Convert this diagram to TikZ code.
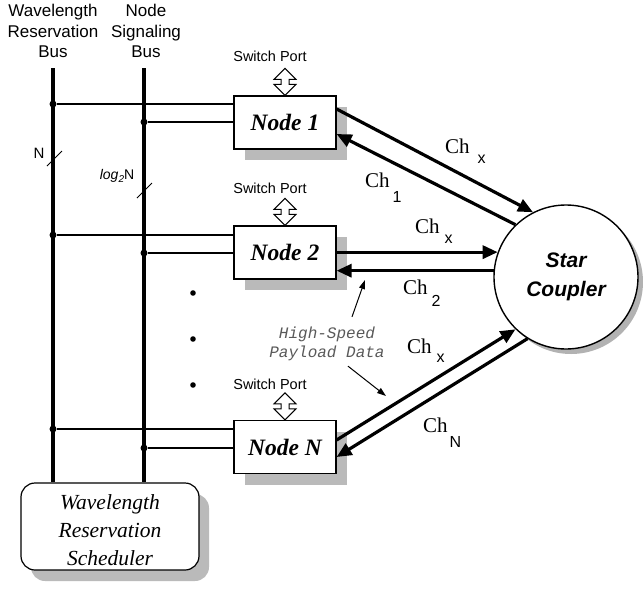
\documentclass[tikz,border=0pt]{standalone}
\usepackage{fontspec}
\setmainfont{Liberation Serif}
\setsansfont{Liberation Sans}
\setmonofont{Liberation Mono}
\usetikzlibrary{arrows.meta,shadows,calc}
\newcommand\chl[3]{{\fontsize{21}{21}\selectfont Ch}\hspace{#1pt}\raisebox{-#2pt}{\sffamily\fontsize{16}{16}\selectfont #3}}
\begin{document}
\begin{tikzpicture}[x=1pt,y=-1pt,
  bus/.style={line width=3.6pt},
  tap/.style={line width=1.3pt},
  junct/.style={circle,fill=black,inner sep=0pt,minimum size=7pt},
  hdr/.style={align=center,inner sep=0pt,font=\sffamily\fontsize{17}{20.5}\selectfont},
  swl/.style={anchor=base,inner sep=0pt,font=\sffamily\fontsize{14.5}{16}\selectfont},
  nodebox/.style={draw,line width=1.2pt,fill=white,minimum width=102pt,minimum height=53pt,inner sep=0pt,
    font=\fontsize{23.5}{26}\selectfont\bfseries\itshape,
    drop shadow={shadow xshift=11pt,shadow yshift=-11pt,fill=black!27,opacity=1,draw=none}},
  chan/.style={line width=3.2pt,-{Triangle[length=15pt,width=13pt]}},
  chlab/.style={anchor=base west,inner sep=0pt},
  ptr/.style={line width=1pt,-{Triangle[length=9pt,width=6pt]}},
  slash/.style={line width=0.9pt},
  swport/.pic={\draw[line width=1pt,fill=white] (0,0) -- (-11,-11) -- (-4,-11) -- (-4,-16) -- (-11,-16) -- (0,-27) -- (11,-16) -- (4,-16) -- (4,-11) -- (11,-11) -- cycle;}
]
\useasboundingbox (0,0) rectangle (643,595);

% headers
\node[hdr] (h1) at (53,31.3) {Wavelength\\Reservation\\Bus};
\node[hdr] (h2) at (146,31.3) {Node\\Signaling\\Bus};
\coordinate (b1) at (53,68);
\coordinate (b2) at (144,68);

% scheduler
\node[draw,line width=1.2pt,fill=white,rounded corners=14pt,minimum width=178pt,minimum height=87pt,inner sep=0pt,align=center,
  font=\fontsize{21.5}{28}\selectfont\itshape,
  drop shadow={shadow xshift=10pt,shadow yshift=-11pt,fill=black!27,opacity=1,draw=none}]
  (sched) at (110,526.5) {\rule{0pt}{22.6pt}Wavelength\\Reservation\\Scheduler};

% buses
\draw[bus] (b1) -- (b1 |- sched.north);
\draw[bus] (b2) -- (b2 |- sched.north);

% nodes
\node[nodebox] (n1) at (285,122.5) {Node 1};
\node[nodebox] (n2) at (285,252.5) {Node 2};
\node[nodebox] (nN) at (285,447) {Node N};

% taps
\node[junct] (j11) at (53,104) {};
\node[junct] (j12) at (144,122) {};
\node[junct] (j21) at (53,235) {};
\node[junct] (j22) at (144,253) {};
\node[junct] (jN1) at (53,429) {};
\node[junct] (jN2) at (144,448) {};
\draw[tap] (j11) -- (j11 -| n1.west);
\draw[tap] (j12) -- (j12 -| n1.west);
\draw[tap] (j21) -- (j21 -| n2.west);
\draw[tap] (j22) -- (j22 -| n2.west);
\draw[tap] (jN1) -- (jN1 -| nN.west);
\draw[tap] (jN2) -- (jN2 -| nN.west);

% bus width marks
\draw[slash] (47,166) -- (62,151);
\node[inner sep=0pt,font=\sffamily\fontsize{15}{15}\selectfont] (lN) at (39,153) {N};
\draw[slash] (137,198) -- (152,183);
\node[inner sep=0pt,font=\sffamily\fontsize{14}{14}\selectfont] (llog) at (117,176) {\textit{log}\raisebox{-3pt}{\fontsize{10}{10}\selectfont\textit{2}}N};

% switch ports
\node[swl] (s1) at (270,61) {Switch Port};
\node[swl] (s2) at (270,193) {Switch Port};
\node[swl] (sN) at (270,389) {Switch Port};
\pic at (n1.north) {swport};
\pic at (n2.north) {swport};
\pic at (nN.north) {swport};

% ellipsis
\fill (193,293) circle (2.8);
\fill (193,339) circle (2.8);
\fill (193,385) circle (2.8);

% star coupler
\node[draw,circle,line width=1.4pt,fill=white,minimum size=144pt,inner sep=0pt,align=center,
  font=\sffamily\bfseries\itshape\fontsize{21}{29}\selectfont,
  drop shadow={shadow xshift=5pt,shadow yshift=-5pt,fill=black!30,opacity=1,draw=none}]
  (sc) at (566,277) {Star\\Coupler};

% channels
\draw[chan] ($(n1.east)+(0,-13.5)$) -- (sc.117);
\draw[chan] (sc.134) -- ($(n1.east)+(0,11.5)$);
\draw[chan] (n2.east |- sc.160) -- (sc.160);
\draw[chan] (sc.175) -- (n2.east |- sc.175);
\draw[chan] ($(nN.east)+(0,-7)$) -- (sc.226);
\draw[chan] (sc.238) -- ($(nN.east)+(0,10)$);

% channel labels
\node[chlab] (c1x) at (445,153) {\chl{8}{10}{x}};
\node[chlab] (c11) at (365,187) {\chl{3}{15}{1}};
\node[chlab] (c2x) at (415,233) {\chl{5}{10}{x}};
\node[chlab] (c22) at (403,294) {\chl{4}{12}{2}};
\node[chlab] (cNx) at (407,353) {\chl{5}{9}{x}};
\node[chlab] (cNN) at (423,432) {\chl{2}{15}{N}};

% payload label
\node[align=center,inner sep=0pt,text=black!65,font=\ttfamily\itshape\fontsize{16}{19}\selectfont] (hsd) at (327,344) {High-Speed\\Payload Data};
\coordinate (p1) at (365,280);
\coordinate (p2) at (386,396);
\draw[ptr] ($(hsd.north)+(25,-10)$) -- (p1);
\draw[ptr] ($(hsd.south)+(21,5)$) -- (p2);
\end{tikzpicture}
\end{document}
